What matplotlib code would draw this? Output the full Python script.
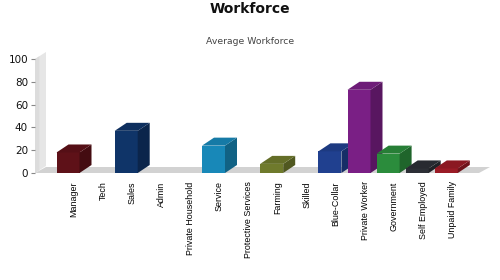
import matplotlib
matplotlib.use("Agg")
import matplotlib.pyplot as plt
from matplotlib.patches import Polygon
import matplotlib.colors as mcolors

categories = ["Manager", "Tech", "Sales", "Admin", "Private Household", "Service",
              "Protective Services", "Farming", "Skilled", "Blue-Collar",
              "Private Worker", "Government", "Self Employed", "Unpaid Family"]
values = [18, 0, 37, 0, 0, 24, 0, 8, 0, 19, 73, 17, 4, 4]
colors = ["#5e1118", None, "#0f3468", None, None, "#1888b8", None, "#6f7a2c", None,
          "#20408f", "#7a1f85", "#2b8c3c", "#2c2f36", "#9a1b26"]
y_ticks = [0, 20, 40, 60, 80, 100]

W, H = 500, 280
fig = plt.figure(figsize=(W / 100, H / 100), dpi=100)
ax_left_px, ax_right_px = 35, 490
ax_top_px, ax_bot_px = 59, 173
ax = fig.add_axes([ax_left_px / W, (H - ax_bot_px) / H,
                   (ax_right_px - ax_left_px) / W, (ax_bot_px - ax_top_px) / H])
step_px = 29.1
first_px = 74
xlo = -(first_px - ax_left_px) / step_px
xhi = (ax_right_px - first_px) / step_px
ax.set_xlim(xlo, xhi)
ax.set_ylim(0, 100)

ppx = 1 / step_px               # data units per pixel (x)
ppy = 100 / (ax_bot_px - ax_top_px)  # data units per pixel (y)

# wall (light gradient approximated with two strips)
wdx, wdy = 11 * ppx, 7 * ppy
wall = Polygon([(xlo, 0), (xlo + wdx, wdy), (xlo + wdx, 100 + wdy), (xlo, 100)],
               closed=True, facecolor="#e6e6e6", edgecolor="none", clip_on=False, zorder=1)
ax.add_patch(wall)
wall2 = Polygon([(xlo, 0), (xlo + wdx * 0.4, wdy * 0.4), (xlo + wdx * 0.4, 100 + wdy * 0.4), (xlo, 100)],
                closed=True, facecolor="#dcdcdc", edgecolor="none", clip_on=False, zorder=1)
ax.add_patch(wall2)
# floor
fdx, fdy = 11 * ppx, 6 * ppy
fr = xlo + (479 - ax_left_px) * ppx
floor = Polygon([(xlo, 0), (fr, 0), (fr + fdx, fdy), (xlo + fdx, fdy)],
                closed=True, facecolor="#d2d2d2", edgecolor="none", clip_on=False, zorder=1)
ax.add_patch(floor)

# bars
bw = 23 * ppx
bdx, bdy = 12 * ppx, 8 * ppy
for i, (v, c) in enumerate(zip(values, colors)):
    if v <= 0 or c is None:
        continue
    x0 = i - (23 + 12) / 2 * ppx
    x1 = x0 + bw
    base = mcolors.to_rgb(c)
    dark = tuple(ch * 0.72 for ch in base)
    top = tuple(min(1, ch * 0.9) for ch in base)
    ax.add_patch(Polygon([(x0, 0), (x1, 0), (x1, v), (x0, v)], closed=True,
                         facecolor=base, edgecolor="none", clip_on=False, zorder=3))
    ax.add_patch(Polygon([(x1, 0), (x1 + bdx, bdy), (x1 + bdx, v + bdy), (x1, v)], closed=True,
                         facecolor=dark, edgecolor="none", clip_on=False, zorder=3))
    ax.add_patch(Polygon([(x0, v), (x1, v), (x1 + bdx, v + bdy), (x0 + bdx, v + bdy)], closed=True,
                         facecolor=top, edgecolor="none", clip_on=False, zorder=3))

for s in ax.spines.values():
    s.set_visible(False)
ax.set_yticks(y_ticks)
ax.set_yticklabels([str(t) for t in y_ticks], fontsize=7.5, color="#111111")
ax.tick_params(axis="y", length=3, color="#888888", pad=2)
ax.set_xticks(range(len(categories)))
ax.set_xticklabels(categories, rotation=90, fontsize=6.4, va="top", ha="center",
                   family=["Liberation Sans Narrow", "Liberation Sans", "DejaVu Sans"])
ax.tick_params(axis="x", length=0, pad=6)
ax.patch.set_alpha(0)

fig.text(0.5, 1 - 9 / H, "Workforce", ha="center", va="center", fontsize=10,
         fontweight="bold", color="#111111")
fig.text(0.5, 1 - 42 / H, "Average Workforce", ha="center", va="center", fontsize=6.7,
         color="#444444")

fig.savefig("out.png", dpi=100)
